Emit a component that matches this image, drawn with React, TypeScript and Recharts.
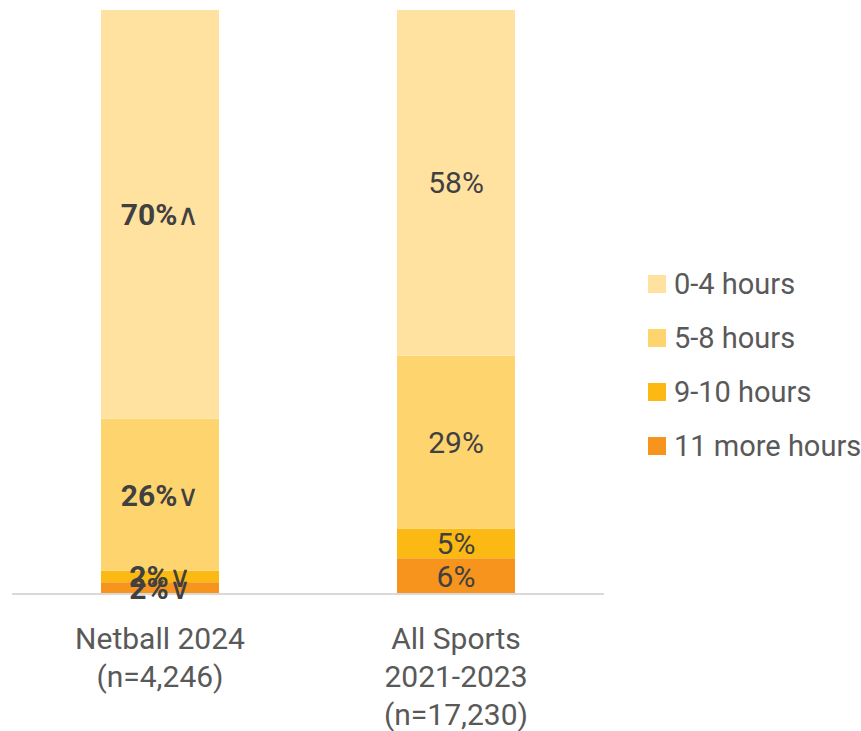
import React from 'react';
import { BarChart, Bar, XAxis, YAxis, Legend, LabelList } from 'recharts';

const categories = ['Netball 2024|(n=4,246)', 'All Sports|2021-2023|(n=17,230)'];
const seriesNames = ['11 more hours', '9-10 hours', '5-8 hours', '0-4 hours'];
const seriesColors = ['#F7941D', '#FDB913', '#FED46F', '#FFE2A0'];
const hours11Plus = [2, 6];
const hours9to10 = [2, 5];
const hours5to8 = [26, 29];
const hours0to4 = [70, 58];
// significance markers, Netball only
const netballArrows = ['∨', '∨', '∨', '∧'];

const seriesValues = [hours11Plus, hours9to10, hours5to8, hours0to4];

const data = categories.map((cat, i) => {
  const row: Record<string, string | number> = { category: cat };
  seriesNames.forEach((name, s) => {
    row[name] = seriesValues[s][i];
  });
  return row;
});

const FONT = 'Roboto, "Noto Sans", sans-serif';
const TEXT = '#404040';

function CategoryTick(props: any) {
  const { x, y, payload } = props;
  const lines = String(payload.value).split('|');
  return (
    <text x={x} y={y} textAnchor="middle" fill="#595959" fontSize={30} fontFamily={FONT}>
      {lines.map((line, i) => (
        <tspan key={i} x={x} dy={i === 0 ? 47 : 38}>
          {line}
        </tspan>
      ))}
    </text>
  );
}

function makeLabel(seriesIndex: number) {
  return function SegmentLabel(props: any) {
    const { x, y, width, height, value, index } = props;
    const cx = Number(x) + Number(width) / 2;
    const cy = Number(y) + Number(height) / 2;
    if (index === 0) {
      return (
        <text x={cx} y={cy} textAnchor="middle" dominantBaseline="central" fill={TEXT} fontSize={30} fontFamily={FONT}>
          <tspan fontWeight="bold">{value}%</tspan>
          <tspan>{netballArrows[seriesIndex]}</tspan>
        </text>
      );
    }
    return (
      <text x={cx} y={cy} textAnchor="middle" dominantBaseline="central" fill={TEXT} fontSize={30} fontFamily={FONT}>
        {value}%
      </text>
    );
  };
}

function LegendBox() {
  const order = [3, 2, 1, 0];
  return (
    <div style={{ fontFamily: FONT }}>
      {order.map((s) => (
        <div key={s} style={{ display: 'flex', alignItems: 'center', height: 54 }}>
          <span style={{ width: 18, height: 18, background: seriesColors[s], marginRight: 8, display: 'inline-block' }} />
          <span style={{ fontSize: 29, color: '#595959', whiteSpace: 'nowrap' }}>{seriesNames[s]}</span>
        </div>
      ))}
    </div>
  );
}

export default function App() {
  return (
    <div style={{ position: 'absolute', left: 0, top: 0, background: '#fff' }}>
      <BarChart
        width={861}
        height={731}
        data={data}
        stackOffset="expand"
        margin={{ top: 10, right: 257, left: 12, bottom: 0 }}
      >
        <XAxis
          dataKey="category"
          axisLine={{ stroke: '#D9D9D9', strokeWidth: 2 }}
          tickLine={false}
          tick={<CategoryTick />}
          height={137}
          interval={0}
        />
        <YAxis hide domain={[0, 1]} />
        <Legend
          layout="horizontal"
          align="center"
          verticalAlign="middle"
          content={<LegendBox />}
          wrapperStyle={{ left: 648, top: 257, width: 'auto' }}
        />
        {seriesNames.map((name, s) => (
          <Bar
            key={name}
            dataKey={name}
            stackId="a"
            fill={seriesColors[s]}
            barSize={118}
            isAnimationActive={false}
          >
            <LabelList dataKey={name} content={makeLabel(s)} />
          </Bar>
        ))}
      </BarChart>
    </div>
  );
}
